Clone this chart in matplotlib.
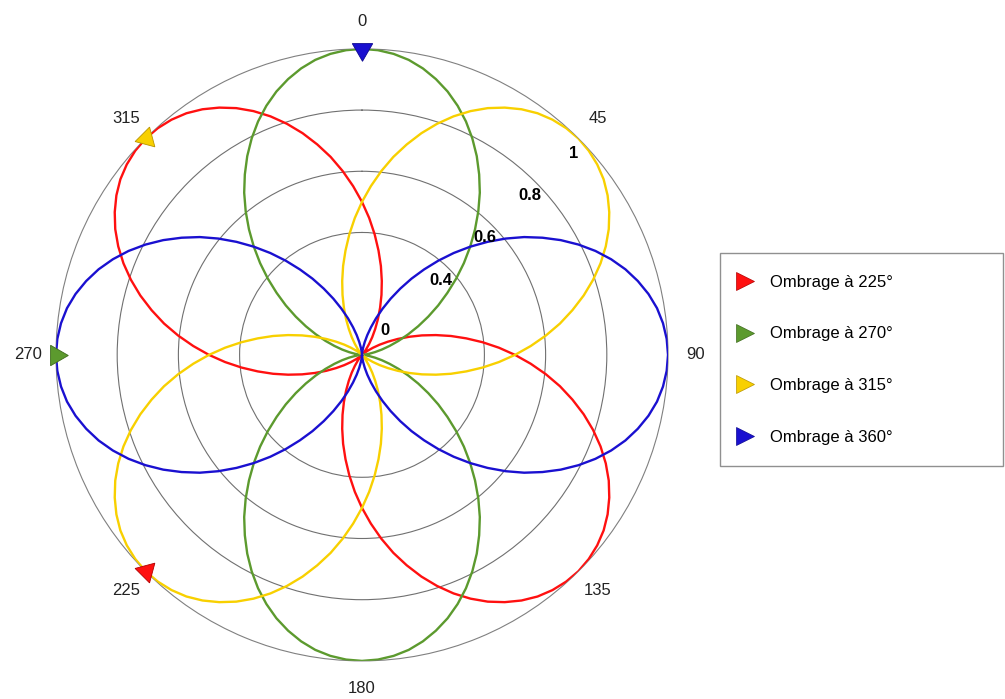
import numpy as np
import matplotlib.pyplot as plt
from matplotlib.lines import Line2D

plt.rcParams['font.family'] = ['Liberation Sans', 'DejaVu Sans']

# shading directions (compass degrees) and legend labels
shade_deg = [225, 270, 315, 360]
labels = ["Ombrage à 225°", "Ombrage à 270°", "Ombrage à 315°", "Ombrage à 360°"]
colors = ["#ff1010", "#5c9a2e", "#f8d000", "#1a10d0"]
edge_colors = ["#b00000", "#3d6a1c", "#b89400", "#0c0890"]

# lobe profile: radius vs angle offset from the shading direction (0..90 deg)
offset_deg = [0, 3, 6, 9, 12, 15, 18, 21, 24, 27, 30, 33, 36, 39, 42, 45,
              48, 51, 54, 57, 60, 63, 66, 69, 72, 75, 78, 81, 84, 87, 90]
profile_r = [0.000, 0.003, 0.011, 0.024, 0.043, 0.067, 0.095, 0.128, 0.165, 0.206,
             0.250, 0.297, 0.345, 0.396, 0.448, 0.500, 0.552, 0.604, 0.655, 0.703,
             0.750, 0.794, 0.835, 0.872, 0.905, 0.933, 0.957, 0.976, 0.989, 0.997, 1.000]

angle_ticks = [0, 45, 90, 135, 180, 225, 270, 315]
ring_values = [0.4, 0.6, 0.8, 1.0]
ring_labels = ["0.4", "0.6", "0.8", "1"]

fig = plt.figure(figsize=(10.05, 6.99), dpi=100)
ax = fig.add_axes([0.0557, 0.0543, 0.609, 0.876], projection='polar')
ax.set_theta_zero_location('N')
ax.set_theta_direction(-1)
ax.set_ylim(0, 1)

# one lobe = rising half + mirrored falling half; second lobe 180 deg further
off = np.array(offset_deg, dtype=float)
prof = np.array(profile_r)
lobe_off = np.concatenate([off, 180 - off[::-1][1:]])
lobe_r = np.concatenate([prof, prof[::-1][1:]])
for phi, col in zip(shade_deg, colors):
    th = np.deg2rad(phi + np.concatenate([lobe_off, lobe_off[1:] + 180]))
    r = np.concatenate([lobe_r, lobe_r[1:]])
    ax.plot(th, r, color=col, lw=1.7, zorder=3)

for phi, col, ec in zip(shade_deg, colors, edge_colors):
    ax.plot(np.deg2rad(phi), 1.0, ls='none', marker=(3, 0, 180 - phi), markersize=17,
            color=col, markeredgecolor=ec, markeredgewidth=0.6, clip_on=False, zorder=5)

# grid and spine
ax.set_yticks(ring_values[:-1])
ax.set_yticklabels([])
ax.yaxis.grid(True, color='#707070', lw=0.8)
ax.xaxis.grid(False)
ax.spines['polar'].set_color('#808080')
ax.spines['polar'].set_linewidth(0.8)

ax.set_xticks(np.deg2rad(angle_ticks))
ax.set_xticklabels([str(a) for a in angle_ticks], fontsize=12, color='#222222')
ax.tick_params(axis='x', direction='in', length=14, width=0.8, color='#808080', pad=13)

# radial labels along the 45 degree direction
ax.text(np.deg2rad(43), 0.11, "0", fontsize=12, fontweight='bold', ha='center', va='center')
for v, lab in zip(ring_values, ring_labels):
    ax.text(np.deg2rad(46.5), v - 0.045, lab, fontsize=12, fontweight='bold',
            ha='center', va='center', zorder=6)

handles = [Line2D([], [], ls='none', marker='>', markersize=13, color=c,
                  markeredgecolor=ec, markeredgewidth=0.5)
           for c, ec in zip(colors, edge_colors)]
leg = fig.legend(handles, labels, loc='upper left',
                 bbox_to_anchor=(0.7164, 0.638, 0.2816, 0), mode='expand',
                 borderaxespad=0, fontsize=12, labelspacing=2.2, borderpad=1.3,
                 handlelength=0.4, handletextpad=1.3, fancybox=False, framealpha=1)
leg.get_frame().set_edgecolor('#909090')
leg.get_frame().set_linewidth(1.0)

fig.savefig('out.png', dpi=100)
